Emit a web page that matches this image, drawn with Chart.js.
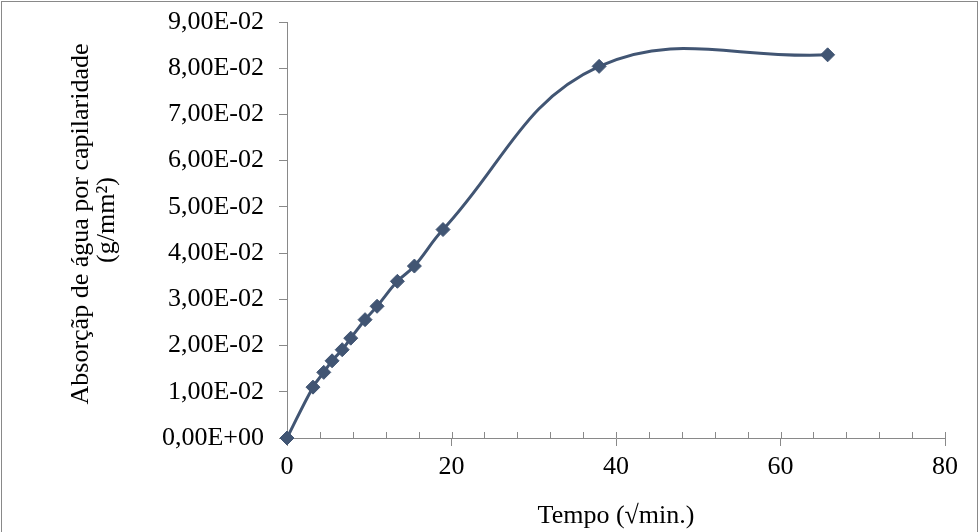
<!DOCTYPE html>
<html>
<head>
<meta charset="utf-8">
<script src="https://cdn.jsdelivr.net/npm/chart.js@4.4.1/dist/chart.umd.min.js"></script>
<style>
  html, body { margin: 0; padding: 0; background: #fff; }
  #wrap { width: 979px; height: 532px; position: relative; }
  #fontprobe { position: absolute; left: -9999px; font-family: "Liberation Serif"; font-size: 24px; }
</style>
</head>
<body>
<span id="fontprobe">Tempo 0,00E+00 √ ²</span>
<div id="wrap"><canvas id="absorptionChart" width="979" height="532"></canvas></div>
<script>
// Data
const tempo = [0, 3.16, 4.47, 5.48, 6.71, 7.75, 9.49, 10.95, 13.42, 15.49, 18.97, 37.95, 65.73];
const absorcao = [0, 0.0110, 0.0142, 0.0167, 0.0191, 0.0216, 0.0256, 0.0285, 0.0339, 0.0372, 0.0451, 0.0804, 0.0829];
const xTicks = [0, 20, 40, 60, 80];
const yMax = 0.09;
const yTitle = ["Absorçãp de água por capilaridade", "(g/mm²)"];

const axisColor = "#898989";
const lineColor = "#415573";
const serif = '"Liberation Serif", "Times New Roman", Times, serif';

Chart.defaults.font.family = serif;
Chart.defaults.color = "#000";

// 9,00E-02 style labels
function sciLabel(v) {
  const s = Number(v).toExponential(2);
  let [m, e] = s.split("e");
  const sign = e[0] === "-" ? "-" : "+";
  e = e.replace(/[+-]/, "").padStart(2, "0");
  return m.replace(".", ",") + "E" + sign + e;
}

// frame round the picture, small inner ticks on the x axis, y axis title
const extras = {
  id: "extras",
  afterDraw(chart) {
    const ctx = chart.ctx;
    const x = chart.scales.x;
    const area = chart.chartArea;
    const midY = (area.top + area.bottom) / 2;
    ctx.save();
    ctx.strokeStyle = axisColor;
    ctx.lineWidth = 1;
    ctx.beginPath();
    for (let v = 4; v <= 80; v += 4) {
      const px = Math.round(x.getPixelForValue(v)) + 0.5;
      ctx.moveTo(px, area.bottom);
      ctx.lineTo(px, area.bottom - 6);
    }
    ctx.stroke();
    ctx.strokeRect(1.5, 1.5, 976, 531);

    // two-line rotated title
    ctx.fillStyle = "#000";
    ctx.font = "26px " + serif;
    ctx.textAlign = "center";
    ctx.textBaseline = "alphabetic";
    [[88, midY - 6], [114, midY - 10]].forEach(([bx, cy], i) => {
      ctx.save();
      ctx.translate(bx, cy);
      ctx.rotate(-Math.PI / 2);
      ctx.fillText(yTitle[i], 0, 0);
      ctx.restore();
    });
    ctx.restore();
  },
};

function drawChart() {
  const points = tempo.map((t, i) => ({ x: t, y: absorcao[i] }));

  new Chart(document.getElementById("absorptionChart").getContext("2d"), {
    type: "line",
    data: {
      datasets: [
        {
          data: points,
          borderColor: lineColor,
          backgroundColor: lineColor,
          borderWidth: 3,
          tension: 0.4,
          pointStyle: "rectRot",
          pointRadius: 7,
          pointHoverRadius: 7,
          pointBorderWidth: 1,
          clip: false,
        },
      ],
    },
    options: {
      responsive: false,
      animation: false,
      events: [],
      layout: { padding: { top: 22, right: 34, left: 0, bottom: 0 } },
      plugins: {
        legend: { display: false },
        tooltip: { enabled: false },
      },
      scales: {
        x: {
          type: "linear",
          min: 0,
          max: 80,
          afterFit(scale) {
            scale.height = 94;
            scale.paddingLeft = 0;
            scale.paddingRight = 0;
          },
          afterBuildTicks(scale) { scale.ticks = xTicks.map((v) => ({ value: v })); },
          grid: {
            drawOnChartArea: false,
            drawTicks: true,
            tickLength: 8,
            color: axisColor,
          },
          border: { color: axisColor, width: 1 },
          ticks: { padding: 6, font: { size: 26 }, color: "#000" },
          title: {
            display: true,
            text: "Tempo (√min.)",
            font: { size: 26 },
            color: "#000",
            padding: { top: 0, bottom: 0 },
          },
        },
        y: {
          min: 0,
          max: yMax,
          afterFit(scale) {
            scale.width = 287;
            scale.paddingTop = 0;
            scale.paddingBottom = 0;
          },
          grid: {
            drawOnChartArea: false,
            drawTicks: true,
            tickLength: 8,
            color: axisColor,
          },
          border: { color: axisColor, width: 1 },
          ticks: {
            stepSize: 0.01,
            padding: 15,
            font: { size: 26 },
            color: "#000",
            callback: (v) => sciLabel(v),
          },
          title: { display: false },
        },
      },
    },
    plugins: [extras],
  });
}

if (document.fonts && document.fonts.load) {
  Promise.all([
    document.fonts.load('24px "Liberation Serif"'),
    document.fonts.load('24px "Times New Roman"'),
  ]).then(drawChart, drawChart);
} else {
  drawChart();
}
</script>
</body>
</html>
